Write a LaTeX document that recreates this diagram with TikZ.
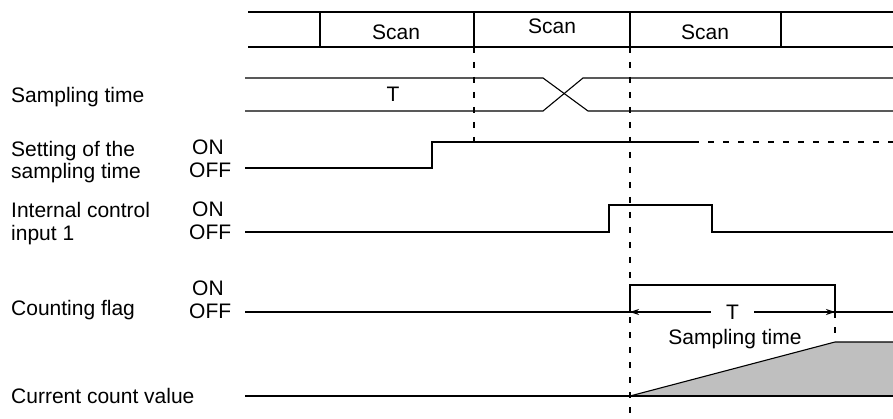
\documentclass[tikz,border=0pt]{standalone}
\usepackage{fontspec}
\setmainfont{Liberation Sans}
\usetikzlibrary{arrows.meta}
\begin{document}
\begin{tikzpicture}[x=1pt,y=-1pt,
  lbl/.style={anchor=base west,inner sep=0pt,font=\fontsize{21}{25}\selectfont},
  ctr/.style={anchor=base,inner sep=0pt,font=\fontsize{21}{25}\selectfont},
  sig/.style={line width=1.1pt},
  dsh/.style={line width=1.1pt,dash pattern=on 6pt off 9pt}]
\useasboundingbox (0,0) rectangle (893,419);
% scan row
\draw[sig] (248,12) -- (893,12) (248,47) -- (893,47);
\draw[sig] (320,12) -- (320,47) (474,12) -- (474,47) (630,12) -- (630,47) (781,12) -- (781,47);
\node[ctr] (scan1) at (396,40) {Scan};
\node[ctr] (scan2) at (552,34) {Scan};
\node[ctr] (scan3) at (705,40) {Scan};
% dashed verticals
\draw[dsh] (474,47) -- (474,142);
\draw[dsh] (630,47) -- (630,419);
% sampling time bus
\draw[sig] (245,78) -- (543,78) -- (588,111) -- (893,111);
\draw[sig] (245,111) -- (543,111) -- (583,78) -- (893,78);
\node[ctr] (T1) at (393,102) {T};
% setting of sampling time
\draw[sig] (245,168) -- (432,168) -- (432,142) -- (693,142);
\draw[dsh] (693,142) -- (893,142);
% internal control input 1
\draw[sig] (245,232) -- (609,232) -- (609,205) -- (712,205) -- (712,232) -- (893,232);
% counting flag
\draw[sig] (245,312) -- (893,312);
\draw[sig] (630,312) -- (630,285) -- (835,285) -- (835,312);
\draw[sig,{Stealth[length=9pt,width=6pt]}-{Stealth[length=9pt,width=6pt]}] (630,312) -- (835,312)
  node[midway,fill=white,inner xsep=15pt,inner ysep=2pt,font=\fontsize{21}{25}\selectfont] (T2) {T};
\draw[dsh] (835,312) -- (835,342);
\node[ctr] (st) at (735,344) {Sampling time};
% current count value
\fill[gray!50] (630,396) -- (835,342) -- (893,342) -- (893,396) -- cycle;
\draw[sig] (245,396) -- (893,396);
\draw[sig] (630,396) -- (835,342) -- (893,342);
% left labels
\node[lbl] (l1) at (11,103) {Sampling time};
\node[lbl] (l2a) at (11,157) {Setting of the};
\node[lbl] (l2b) at (11,179) {sampling time};
\node[lbl] (l3a) at (11,218) {Internal control};
\node[lbl] (l3b) at (11,241) {input 1};
\node[lbl] (l4) at (11,315) {Counting flag};
\node[lbl] (l5) at (11,403) {Current count value};
\node[lbl] (on1) at (192,155) {ON};
\node[lbl] (off1) at (189,178) {OFF};
\node[lbl] (on2) at (192,217) {ON};
\node[lbl] (off2) at (189,240) {OFF};
\node[lbl] (on3) at (192,295) {ON};
\node[lbl] (off3) at (189,318) {OFF};
\end{tikzpicture}
\end{document}
